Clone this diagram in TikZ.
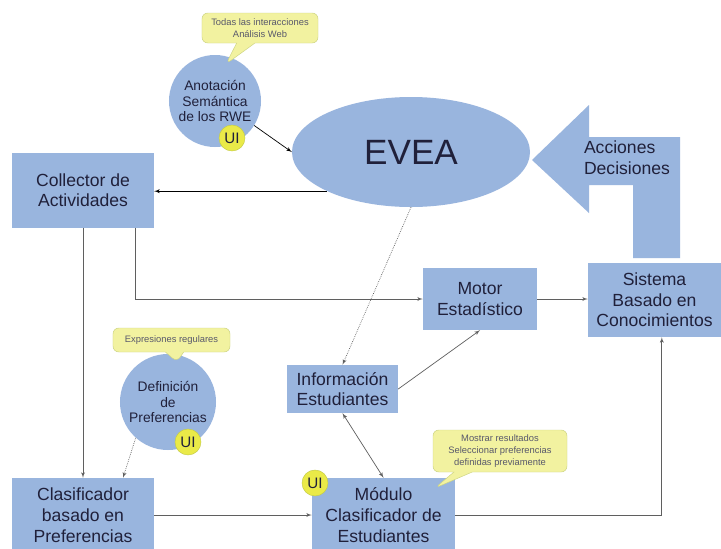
\documentclass[tikz,border=0pt]{standalone}
\usepackage{fontspec}
\setmainfont{Liberation Sans}
\usetikzlibrary{shapes,arrows}
\definecolor{boxblue}{RGB}{153,181,222}
\definecolor{txt}{RGB}{32,32,58}
\definecolor{noteyellow}{RGB}{242,242,160}
\definecolor{noteedge}{RGB}{205,212,130}
\definecolor{uiyellow}{RGB}{234,234,72}
\definecolor{uiedge}{RGB}{196,204,70}
\definecolor{linegray}{RGB}{95,95,95}
\tikzstyle{block} = [rectangle, fill=boxblue, text=txt, align=center,
font=\fontsize{15}{17.5}\selectfont, inner sep=0pt]
\tikzstyle{bubble} = [circle, fill=boxblue, text=txt, align=center,
font=\fontsize{11.8}{13.5}\selectfont, inner sep=0pt]
\tikzstyle{ui} = [circle, fill=uiyellow, draw=uiedge, text=txt,
minimum size=0.78cm, inner sep=0pt, font=\fontsize{13}{13}\selectfont]
\tikzstyle{note} = [rectangle callout, rounded corners=5pt, fill=noteyellow,
draw=noteedge, text=txt!75, align=center, inner sep=1pt,
font=\fontsize{8}{10}\selectfont, callout pointer width=0.55cm]
\tikzstyle{line} = [draw=linegray, line width=0.6pt, -latex']

\begin{document}
\begin{tikzpicture}[x=0.03cm, y=-0.03cm]
\path [use as bounding box, fill=white] (0,0) rectangle (721,548);
% Place nodes
\node [ellipse, fill=boxblue, text=txt, minimum width=7.14cm, minimum height=3.3cm,
font=\fontsize{30}{30}\selectfont] (evea) at (411,152) {EVEA};
\node [block, minimum width=4.26cm, minimum height=2.25cm] (collector) at (83,190) {Collector de\\Actividades};
\node [block, minimum width=3.42cm, minimum height=1.86cm] (motor) at (480,299) {Motor\\Estadístico};
\node [block, minimum width=3.99cm, minimum height=2.22cm] (sistema) at (654.5,300) {Sistema\\Basado en\\Conocimientos};
\node [block, minimum width=3.33cm, minimum height=1.44cm] (info) at (342.5,389) {Información\\Estudiantes};
\node [block, minimum width=4.29cm, minimum height=2.22cm, font=\fontsize{15}{18}\selectfont] (modulo) at (383.5,515) {Módulo\\Clasificador de\\Estudiantes};
\node [block, minimum width=4.26cm, minimum height=2.22cm, font=\fontsize{15}{18}\selectfont] (clasificador) at (83,515) {Clasificador\\basado en\\Preferencias};
\node [bubble, minimum size=2.76cm] (anotacion) at (215,101) {Anotación\\Semántica\\de los RWE};
\node [bubble, minimum size=2.88cm] (definicion) at (168,402) {Definición\\de\\Preferencias};
\node [ui] (ui1) at (232,138) {UI};
\node [ui] (ui2) at (188,442) {UI};
\node [ui] (ui3) at (315,483) {UI};
% Notes
\node [note, minimum width=3.48cm, minimum height=0.9cm, callout absolute pointer={(226,64)}] (note1) at (260,28) {Todas las interacciones\\Análisis Web};
\node [note, minimum width=3.51cm, minimum height=0.72cm, callout absolute pointer={(177,362)}] (note2) at (171.5,340) {Expresiones regulares};
\node [note, minimum width=4.02cm, minimum height=1.26cm, callout absolute pointer={(435,488)}] (note3) at (500,451) {Mostrar resultados\\Seleccionar preferencias\\definidas previamente};
% Feedback arrow
\fill [boxblue] (680,258) -- (680,137) -- (589,137) -- (589,105) -- (532,160)
  -- (589,213) -- (589,185) -- (633,185) -- (633,258) -- cycle;
\node [text=txt, align=left, font=\fontsize{15}{18}\selectfont] (acciones) at (627,158) {Acciones\\Decisiones};
% Connectors
\path [line, draw=black] (evea.205) -- (collector.east |- evea.205);
\path [line] (collector.south) -- (clasificador.north);
\path [line] ([xshift=-0.57cm]collector.south east) |- (motor.west);
\path [line] (motor.east) -- (sistema.west |- motor.east);
\path [line, densely dotted] (evea.south) -- (info.north);
\path [line] (info.east) -- (motor.south);
\path [line, latex'-latex'] (info.south) -- (modulo.north);
\path [line] (clasificador.east) -- (modulo.west);
\path [line] (modulo.east) -| ([xshift=0.22cm]sistema.south);
\path [line, densely dotted] (definicion.228) -- ([xshift=1.2cm]clasificador.north);
\path [line, draw=black] (anotacion.-32) -- (evea.west);
\end{tikzpicture}
\end{document}
